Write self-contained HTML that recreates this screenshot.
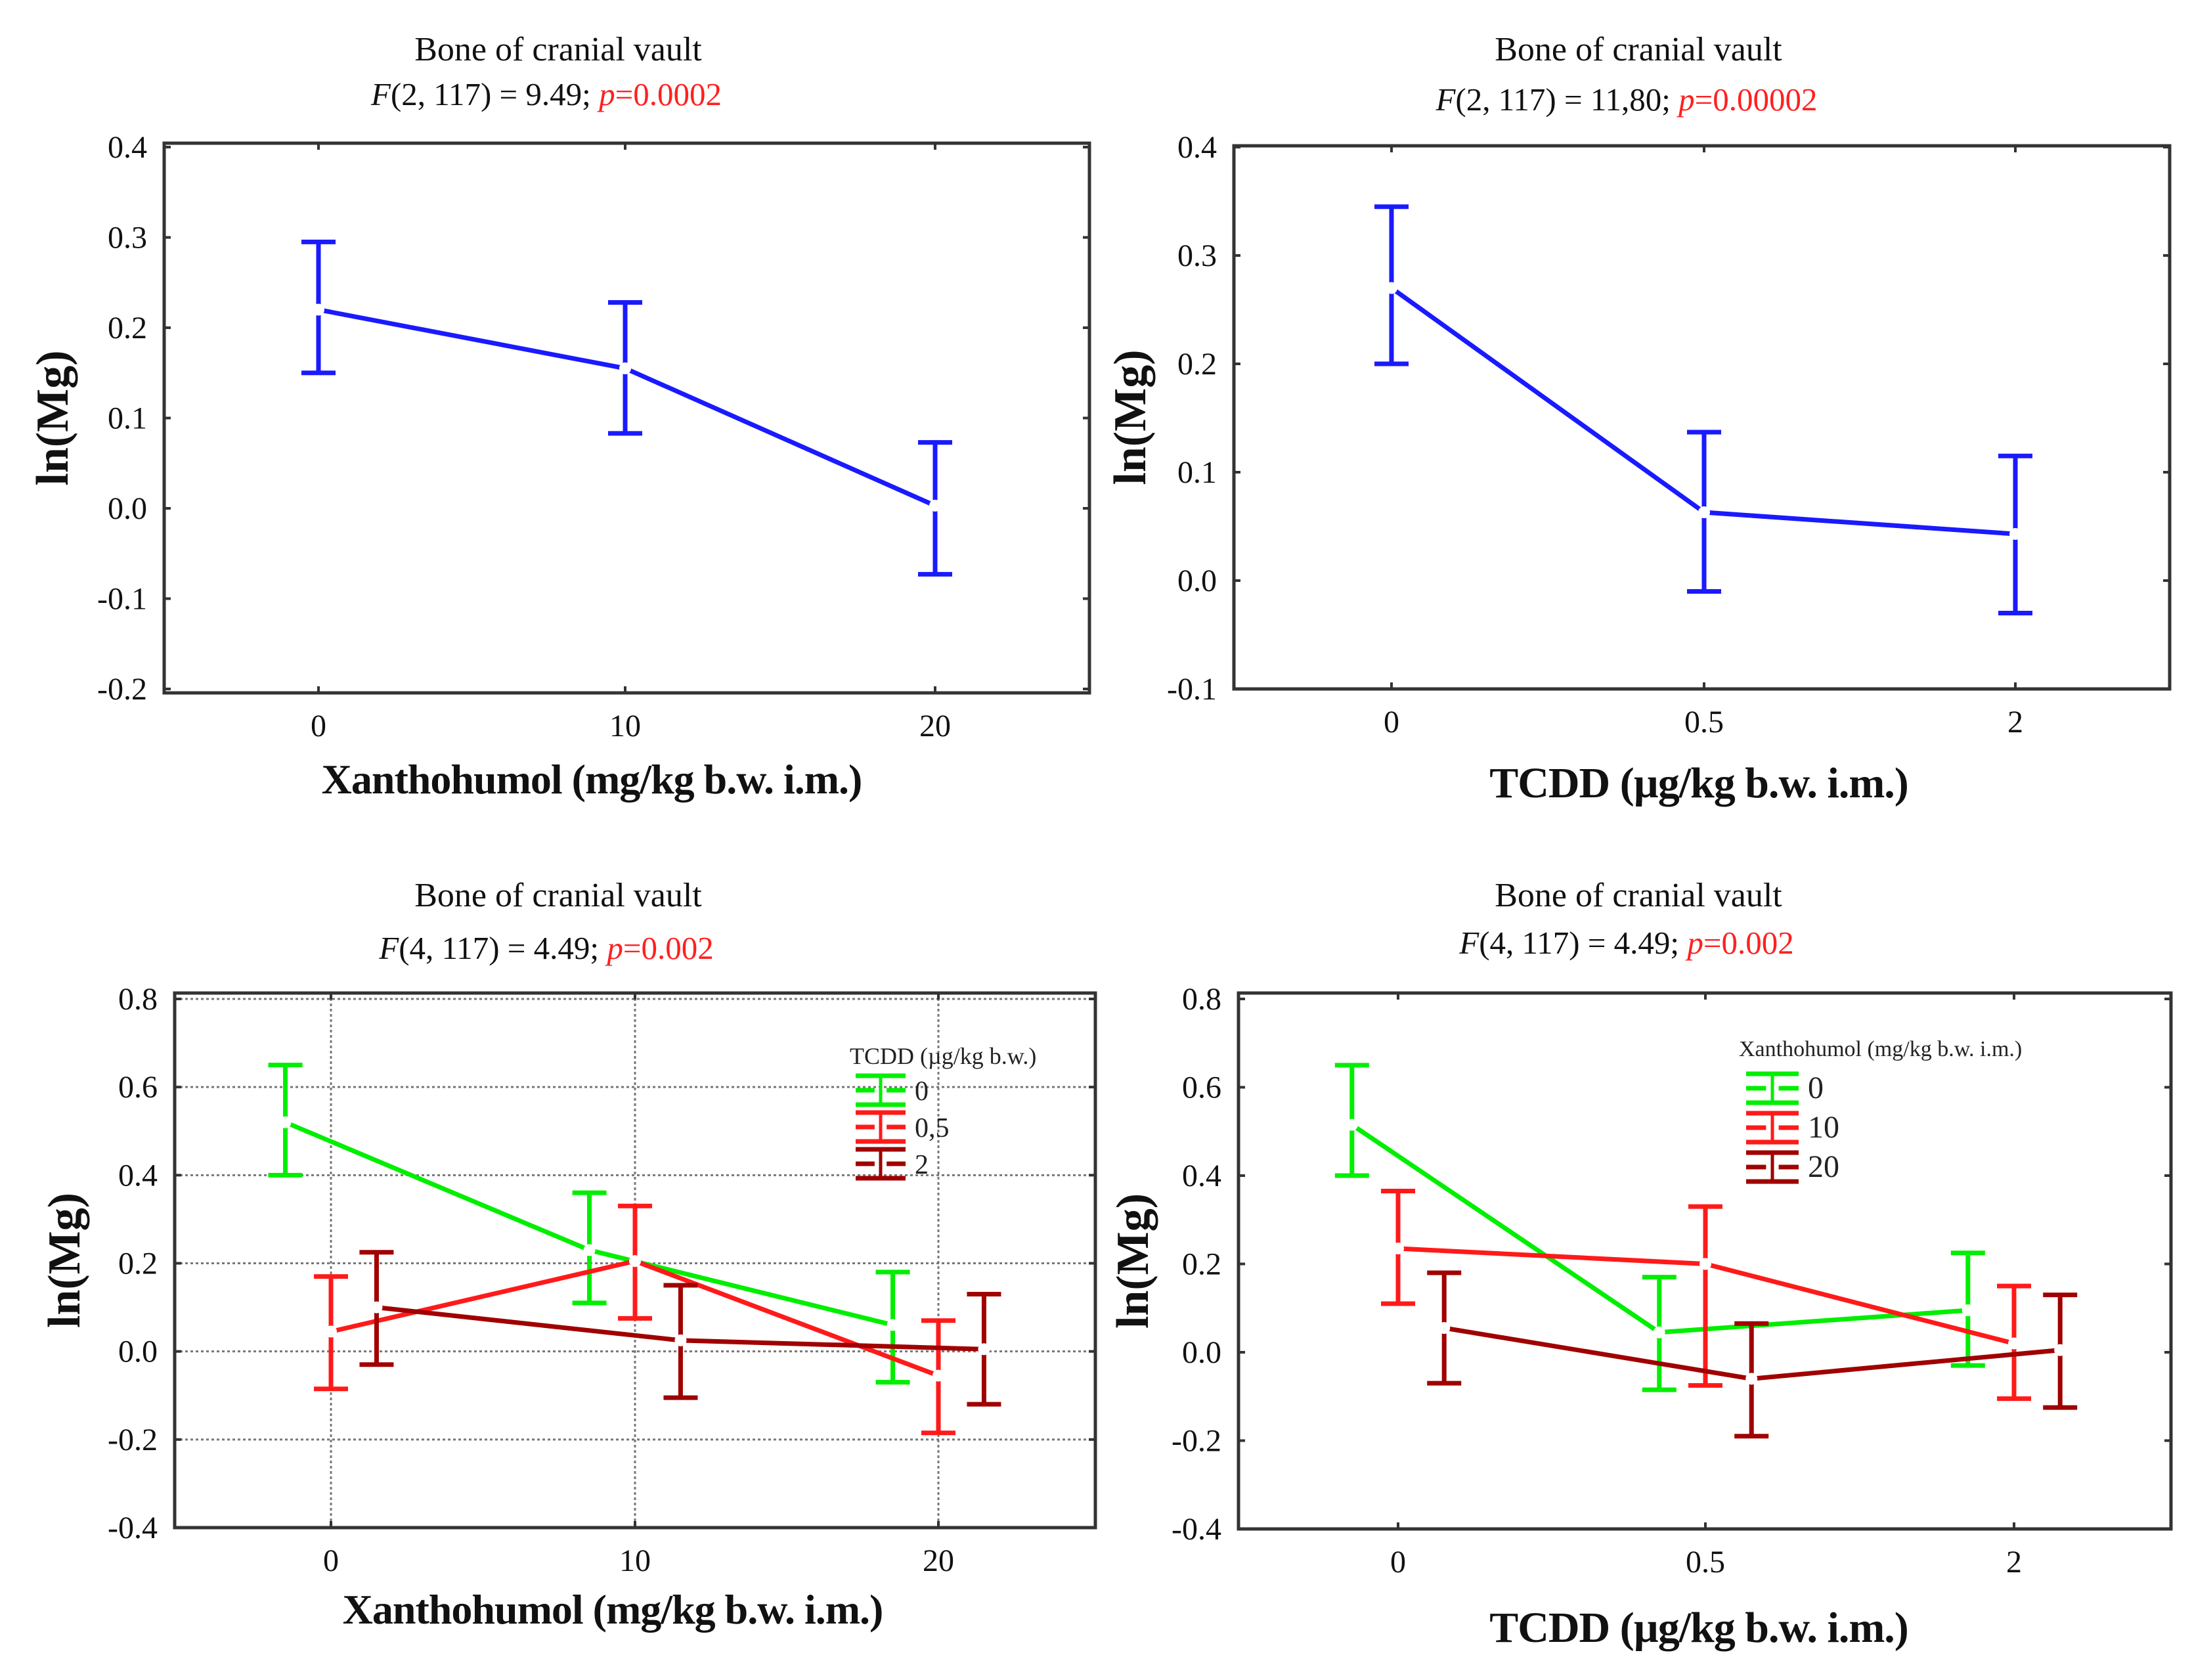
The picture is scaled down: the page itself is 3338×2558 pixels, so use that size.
<!DOCTYPE html>
<html><head><meta charset="utf-8"><style>
html,body{margin:0;padding:0;background:#fff;}
svg{display:block;font-family:"Liberation Serif",serif;}
</style></head><body>
<svg id="fig" width="3338" height="2558" viewBox="0 0 3338 2558"></svg>
<script>
// ---------- data ----------
const p1Categories = ["0","10","20"];
const p1Mean = [0.22, 0.155, 0.003];
const p1Low = [0.15, 0.083, -0.073];
const p1High = [0.295, 0.228, 0.073];
const p1YTicks = [0.4,0.3,0.2,0.1,0.0,-0.1,-0.2];

const p2Categories = ["0","0.5","2"];
const p2Mean = [0.27, 0.063, 0.043];
const p2Low = [0.2, -0.01, -0.03];
const p2High = [0.345, 0.137, 0.115];
const p2YTicks = [0.4,0.3,0.2,0.1,0.0,-0.1];

const p34YTicks = [0.8,0.6,0.4,0.2,0.0,-0.2,-0.4];

const p3Categories = ["0","10","20"];
const p3SeriesNames = ["0","0,5","2"];
const p3Mean = [[0.52,0.23,0.06],[0.045,0.205,-0.055],[0.1,0.025,0.005]];
const p3Low = [[0.4,0.11,-0.07],[-0.085,0.075,-0.185],[-0.03,-0.105,-0.12]];
const p3High = [[0.65,0.36,0.18],[0.17,0.33,0.07],[0.225,0.15,0.13]];

const p4Categories = ["0","0.5","2"];
const p4SeriesNames = ["0","10","20"];
const p4Mean = [[0.515,0.045,0.095],[0.235,0.2,0.02],[0.055,-0.06,0.005]];
const p4Low = [[0.4,-0.085,-0.03],[0.11,-0.075,-0.105],[-0.07,-0.19,-0.125]];
const p4High = [[0.65,0.17,0.225],[0.365,0.33,0.15],[0.18,0.065,0.13]];

const seriesColors = ["#00ee00","#ff1a1a","#a00000"];
const NS="http://www.w3.org/2000/svg";
const svg=document.getElementById('fig');
function el(tag,attrs,parent){const e=document.createElementNS(NS,tag);for(const k in attrs)e.setAttribute(k,attrs[k]);(parent||svg).appendChild(e);return e;}
function txt(s,attrs,parent){const e=el('text',attrs,parent);e.textContent=s;return e;}

function panel(cfg){
  const g=el('g',{});
  
  
  const {L,R,T,B,y0,y1,yv0,yv1,xs}=cfg;
  const ys=v=>y0+(v-yv0)/(yv1-yv0)*(y1-y0);
  const t=txt('Bone of cranial vault',{x:cfg.cx,y:cfg.ty,'font-size':52,'text-anchor':'middle',fill:'#111'},g);
  
  const f=el('text',{x:cfg.cx-18,y:cfg.fy,'font-size':49,'text-anchor':'middle',fill:'#111'},g);
  
  f.innerHTML='<tspan font-style="italic">F</tspan>'+cfg.fstat+'<tspan fill="#ff2020"><tspan font-style="italic">p</tspan>='+cfg.p+'</tspan>';
  if(cfg.grid){
    cfg.yticks.forEach(v=>{const gl=el('line',{x1:L,x2:R,y1:ys(v),y2:ys(v),stroke:'#777','stroke-width':3,'stroke-dasharray':'4 4'},g);
      });
    cfg.cats.forEach((c,i)=>{const gl=el('line',{x1:xs[i],x2:xs[i],y1:T,y2:B,stroke:'#777','stroke-width':3,'stroke-dasharray':'4 4'},g);
      });
  }
  const box=el('rect',{x:L,y:T,width:R-L,height:B-T,fill:'none',stroke:'#333','stroke-width':5},g);
  
  cfg.yticks.forEach(v=>{
    const lb=txt(v.toFixed(1),{x:L-26,y:ys(v)+16,'font-size':48,'text-anchor':'end',fill:'#111'},g);
    
    el('line',{x1:L,x2:L+10,y1:ys(v),y2:ys(v),stroke:'#333','stroke-width':4},g);
    el('line',{x1:R,x2:R-10,y1:ys(v),y2:ys(v),stroke:'#333','stroke-width':4},g);
  });
  cfg.cats.forEach((c,i)=>{
    const lb=txt(c,{x:xs[i],y:B+66,'font-size':48,'text-anchor':'middle',fill:'#111'},g);
    
    el('line',{x1:xs[i],x2:xs[i],y1:B,y2:B-10,stroke:'#333','stroke-width':4},g);
    el('line',{x1:xs[i],x2:xs[i],y1:T,y2:T+10,stroke:'#333','stroke-width':4},g);
  });
  const xl=txt(cfg.xlabel,{x:cfg.xlx,y:cfg.xly,'font-size':cfg.xlfs,'text-anchor':'middle',fill:'#111','font-weight':'bold','letter-spacing':'-1'},g);
  
  const yl=txt('ln(Mg)',{x:0,y:0,'font-size':70,'font-weight':'bold','text-anchor':'middle',fill:'#111',transform:`translate(${cfg.ylx},${(T+B)/2}) rotate(-90)`},g);
  
  const spacing=xs[1]-xs[0];
  cfg.series.forEach((s,si)=>{
    const off=s.off*spacing;
    const sg=el('g',{},g);
    
    const pts=s.mean.map((m,i)=>[xs[i]+off,ys(m)]);
    const ln=el('polyline',{points:pts.map(p=>p.join(',')).join(' '),fill:'none',stroke:s.color,'stroke-width':7},sg);
    
    s.mean.forEach((m,i)=>{
      const x=xs[i]+off;
      const eb=el('g',{},sg);
      
      el('line',{x1:x,x2:x,y1:ys(s.hi[i]),y2:ys(s.lo[i]),stroke:s.color,'stroke-width':7},eb);
      el('line',{x1:x-26,x2:x+26,y1:ys(s.hi[i]),y2:ys(s.hi[i]),stroke:s.color,'stroke-width':7},eb);
      el('line',{x1:x-26,x2:x+26,y1:ys(s.lo[i]),y2:ys(s.lo[i]),stroke:s.color,'stroke-width':7},eb);
      const pt=el('circle',{cx:x,cy:ys(m),r:9,fill:'#fff'},eb);
      
    });
  });
  if(cfg.legend){
    const lg=el('g',{},g);
    
    const lt=txt(cfg.legend.title,{x:cfg.legend.tx,y:cfg.legend.ty,'font-size':cfg.legend.tfs,fill:'#222'},lg);
    
    cfg.series.forEach((s,si)=>{
      const cy=cfg.legend.ys[si], x0=cfg.legend.ix, w=cfg.legend.iw;
      const en=el('g',{},lg);
      
      el('line',{x1:x0,x2:x0+w,y1:cy-22,y2:cy-22,stroke:s.color,'stroke-width':7},en);
      el('line',{x1:x0,x2:x0+w*0.38,y1:cy,y2:cy,stroke:s.color,'stroke-width':7},en);
      el('line',{x1:x0+w*0.62,x2:x0+w,y1:cy,y2:cy,stroke:s.color,'stroke-width':7},en);
      el('line',{x1:x0,x2:x0+w,y1:cy+22,y2:cy+22,stroke:s.color,'stroke-width':7},en);
      el('line',{x1:x0+w/2,x2:x0+w/2,y1:cy-22,y2:cy+22,stroke:s.color,'stroke-width':5},en);
      txt(cfg.legendNames[si],{x:x0+w+14,y:cy+15,'font-size':cfg.legend.fs,fill:'#222'},en);
    });
  }
}

panel({name:'panel-xanthohumol-main',L:250,R:1659,T:218,B:1055,y0:224,y1:1049,yv0:0.4,yv1:-0.2,
  xs:[485,952,1424],cats:p1Categories,yticks:p1YTicks,cx:850,ty:92,fy:160,fstat:'(2, 117) = 9.49; ',p:'0.0002',
  xlabel:'Xanthohumol (mg/kg b.w. i.m.)',xlx:901,xly:1208,xlfs:64,ylx:103,
  series:[{mean:p1Mean,lo:p1Low,hi:p1High,color:'#1a1aff',off:0}]});
panel({name:'panel-tcdd-main',L:1879,R:3304,T:222,B:1049,y0:224,y1:1049,yv0:0.4,yv1:-0.1,
  xs:[2119,2595,3069],cats:p2Categories,yticks:p2YTicks,cx:2495,ty:92,fy:168,fstat:'(2, 117) = 11,80; ',p:'0.00002',
  xlabel:'TCDD (µg/kg b.w. i.m.)',xlx:2587,xly:1214,xlfs:66,ylx:1744,
  series:[{mean:p2Mean,lo:p2Low,hi:p2High,color:'#1a1aff',off:0}]});
panel({name:'panel-xanthohumol-by-tcdd',L:266,R:1668,T:1512,B:2326,y0:1521,y1:2326,yv0:0.8,yv1:-0.4,grid:true,
  xs:[504,967,1429],cats:p3Categories,yticks:p34YTicks,cx:850,ty:1380,fy:1460,fstat:'(4, 117) = 4.49; ',p:'0.002',
  xlabel:'Xanthohumol (mg/kg b.w. i.m.)',xlx:933,xly:2472,xlfs:64,ylx:121,legendNames:p3SeriesNames,
  legend:{title:'TCDD (µg/kg b.w.)',tx:1294,ty:1620,tfs:36,ix:1303,iw:76,ys:[1660,1716,1772],fs:42},
  series:[0,1,2].map(i=>({mean:p3Mean[i],lo:p3Low[i],hi:p3High[i],color:seriesColors[i],off:[-0.15,0,0.15][i]}))});
panel({name:'panel-tcdd-by-xanthohumol',L:1886,R:3306,T:1512,B:2328,y0:1521,y1:2328,yv0:0.8,yv1:-0.4,
  xs:[2129,2597,3067],cats:p4Categories,yticks:p34YTicks,cx:2495,ty:1380,fy:1452,fstat:'(4, 117) = 4.49; ',p:'0.002',
  xlabel:'TCDD (µg/kg b.w. i.m.)',xlx:2587,xly:2500,xlfs:66,ylx:1748,legendNames:p4SeriesNames,
  legend:{title:'Xanthohumol (mg/kg b.w. i.m.)',tx:2648,ty:1608,tfs:34,ix:2659,iw:80,ys:[1657,1717,1777],fs:48},
  series:[0,1,2].map(i=>({mean:p4Mean[i],lo:p4Low[i],hi:p4High[i],color:seriesColors[i],off:[-0.15,0,0.15][i]}))});
</script>
</body></html>
